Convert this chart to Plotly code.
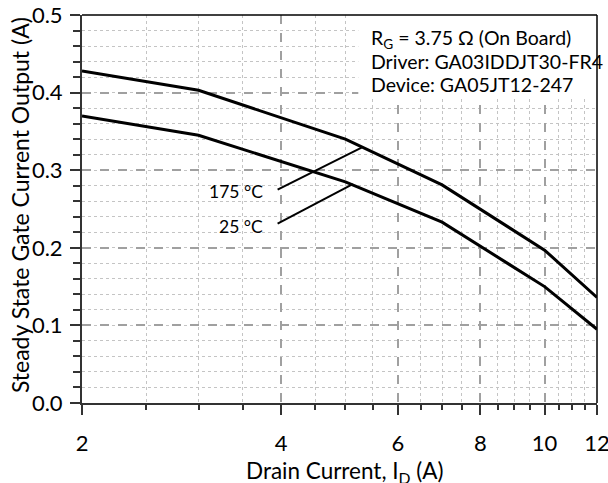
import math
import plotly.graph_objects as go

# ---- data ----
drain_current = [2, 3, 5, 7, 10, 12]
gate_175C = [0.428, 0.403, 0.340, 0.281, 0.197, 0.136]
gate_25C = [0.370, 0.345, 0.285, 0.233, 0.150, 0.095]

x_tickvals = [2, 4, 6, 8, 10, 12]
x_minor_vals = [2.5, 3, 3.5, 4.5, 5, 5.5, 6.5, 7, 7.5, 8.5, 9, 9.5, 10.5, 11, 11.5]
y_tickvals = [0, 0.1, 0.2, 0.3, 0.4, 0.5]
y_ticktext = ["0.0", "0.1", "0.2", "0.3", "0.4", "0.5"]

label_175_line_x = [3.95, 5.29]
label_175_line_y = [0.275, 0.329]
label_25_line_x = [3.95, 5.13]
label_25_line_y = [0.231, 0.282]

info_lines = ["R<sub>G</sub> = 3.75 Ω (On Board)", "Driver: GA03IDDJT30-FR4", "Device: GA05JT12-247"]
info_y = [0.469, 0.44, 0.41]

x_title = "Drain Current, I<sub>D</sub> (A)"
y_title = "Steady State Gate Current Output (A)"

FONT = "Lato"
lg = math.log10

fig = go.Figure()

for ys in (gate_175C, gate_25C):
    fig.add_trace(go.Scatter(x=drain_current, y=ys, mode="lines",
                             line=dict(color="black", width=3), showlegend=False, hoverinfo="skip"))
for lx, ly in ((label_175_line_x, label_175_line_y), (label_25_line_x, label_25_line_y)):
    fig.add_trace(go.Scatter(x=lx, y=ly, mode="lines",
                             line=dict(color="black", width=2), showlegend=False, hoverinfo="skip"))

# white box behind info text (covers grid; curves never reach it)
fig.add_shape(type="rect", xref="x", yref="y", x0=5.23, x1=12, y0=0.392, y1=0.5,
              fillcolor="white", line_width=0, layer="above")

fig.add_annotation(x=lg(3.775), y=0.272, text="175 °C", showarrow=False, xanchor="right",
                   font=dict(family=FONT, size=17.5, color="black"))
fig.add_annotation(x=lg(3.775), y=0.227, text="25 °C", showarrow=False, xanchor="right",
                   font=dict(family=FONT, size=17.5, color="black"))
for t, yy in zip(info_lines, info_y):
    fig.add_annotation(x=lg(5.43), y=yy, text=t, showarrow=False, xanchor="left", yanchor="middle",
                       font=dict(family=FONT, size=19.5, color="black"))

# axis titles
fig.add_annotation(x=0.511, y=-0.177, xref="paper", yref="paper", text=x_title, showarrow=False,
                   xanchor="center", yanchor="middle", font=dict(family=FONT, size=22.5, color="black"))
fig.add_annotation(x=-0.1204, y=0.51, xref="paper", yref="paper", text=y_title, showarrow=False,
                   textangle=-90, xanchor="center", yanchor="middle",
                   font=dict(family=FONT, size=23, color="black"))

# top / right frame
fig.add_shape(type="line", xref="paper", yref="paper", x0=0, x1=1, y0=1, y1=1,
              line=dict(color="black", width=1.5), layer="above")
fig.add_shape(type="line", xref="paper", yref="paper", x0=1, x1=1, y0=0, y1=1,
              line=dict(color="black", width=1.5), layer="above")

fig.update_layout(
    width=608, height=483,
    margin=dict(l=82, r=11, t=15, b=80, autoexpand=False),
    paper_bgcolor="white", plot_bgcolor="white",
    font=dict(family=FONT, color="black"),
    xaxis=dict(
        type="log", range=[lg(2), lg(12)], automargin=False,
        tickmode="array", tickvals=x_tickvals, ticktext=[str(v) for v in x_tickvals],
        ticks="outside", ticklen=10, tickwidth=1.5, tickcolor="#333",
        tickfont=dict(size=22, family=FONT, color="black"),
        ticklabelstandoff=10, ticklabeloverflow="allow",
        showline=True, linecolor="#333", linewidth=2,
        showgrid=True, gridcolor="#a0a0a0", gridwidth=1.5, griddash="dash",
        minor=dict(tickmode="array", tickvals=x_minor_vals, ticks="outside", ticklen=5,
                   tickwidth=1.5, tickcolor="#333", showgrid=True, gridcolor="#c4c4c4",
                   gridwidth=1, griddash="dot"),
        zeroline=False,
    ),
    yaxis=dict(
        range=[0, 0.5], automargin=False,
        tickmode="array", tickvals=y_tickvals, ticktext=y_ticktext,
        ticks="outside", ticklen=10, tickwidth=1.5, tickcolor="#333",
        tickfont=dict(size=22, family=FONT, color="black"),
        ticklabelstandoff=3, ticklabeloverflow="allow",
        showline=True, linecolor="#333", linewidth=2,
        showgrid=True, gridcolor="#a0a0a0", gridwidth=1.5, griddash="dash",
        minor=dict(dtick=0.02, tick0=0, ticks="outside", ticklen=7, tickwidth=1.5, tickcolor="#333",
                   showgrid=True, gridcolor="#c4c4c4", gridwidth=1, griddash="dot"),
        zeroline=False,
    ),
)

fig.write_html("out.html", config={"displayModeBar": False},
               post_script="document.body.style.margin='0px';document.body.style.overflow='hidden';")
